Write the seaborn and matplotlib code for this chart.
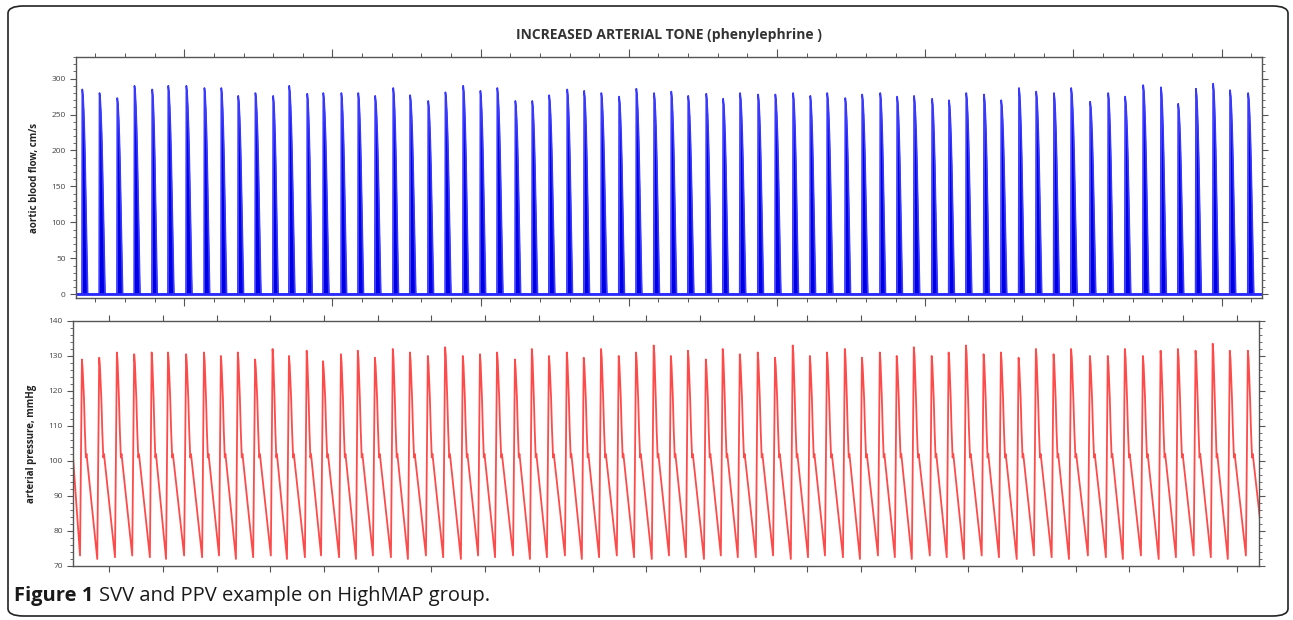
import matplotlib
matplotlib.use("Agg")
import matplotlib.pyplot as plt
import numpy as np
import pandas as pd
import seaborn as sns
from matplotlib.patches import FancyBboxPatch
from matplotlib.ticker import MultipleLocator

# beat onsets (s)
beat_onsets = [1.55, 2.13, 2.73, 3.31, 3.91, 4.45, 5.06, 5.67, 6.24, 6.81,
               7.39, 7.99, 8.53, 9.14, 9.68, 10.29, 10.86, 11.43, 12.04, 12.61,
               13.22, 13.80, 14.40, 14.98, 15.55, 16.16, 16.73, 17.30, 17.91, 18.48,
               19.06, 19.66, 20.24, 20.84, 21.42, 21.99, 22.60, 23.17, 23.74, 24.35,
               24.93, 25.53, 26.11, 26.68, 27.29, 27.86, 28.47, 29.04, 29.61, 30.22,
               30.79, 31.37, 31.97, 32.55, 33.15, 33.73, 34.33, 34.91, 35.55, 36.16,
               36.73, 37.34, 37.94, 38.52, 39.12, 39.70, 40.27, 40.88]

# peak aortic flow per beat (cm/s)
flow_peaks = [285, 280, 273, 290, 285, 290, 290, 287, 287, 276,
              280, 276, 290, 279, 280, 280, 280, 276, 287, 277,
              269, 281, 290, 283, 287, 269, 269, 277, 285, 283,
              280, 275, 286, 280, 282, 276, 279, 272, 280, 278,
              278, 280, 276, 280, 273, 278, 280, 275, 276, 272,
              270, 280, 278, 270, 287, 282, 280, 287, 268, 280,
              275, 291, 288, 265, 286, 293, 284, 280]

# systolic / diastolic arterial pressure per beat (mmHg)
pressure_peaks = [129, 129.5, 131, 130.5, 131, 131, 130.5, 131, 130, 131,
                  129, 132, 130, 131.5, 128.5, 130.5, 131.5, 129.5, 132, 131,
                  130, 132.5, 130, 130.5, 131, 129, 132, 130, 131, 129.5,
                  132, 130, 131, 133, 130, 131.5, 129, 132, 130.5, 131,
                  129.5, 133, 130, 131, 132, 129.5, 131, 130, 132.5, 130,
                  131, 133, 130.5, 131, 129.5, 132, 130.5, 132, 130, 130,
                  132, 130, 131.5, 132, 131.5, 133.5, 131.5, 131.5]
pressure_troughs = [73, 72, 72.5, 73, 72.5, 72, 73, 72.5, 73, 72,
                    72.5, 73, 72, 72.5, 73, 72.5, 72, 73, 72.5, 72,
                    73, 72.5, 72, 73, 72.5, 73, 72, 72.5, 73, 72,
                    72.5, 73, 72.5, 72, 73, 72.5, 72, 73, 72.5, 72.5,
                    73, 72, 72.5, 73, 72.5, 72, 73, 72.5, 72, 73,
                    72.5, 72, 73, 72.5, 72, 73, 72.5, 72, 73, 72.5,
                    72, 73, 72, 72.5, 73, 72.5, 72, 73]
notch_level = 101
mid_fall_level = 118

# beat shapes (phase within the beat, fraction of peak)
flow_phase = [0.0, 0.02, 0.06, 0.10, 0.14, 0.18, 0.22, 0.26, 0.30, 0.33]
flow_frac = [0.0, 1.0, 0.97, 0.9, 0.8, 0.66, 0.48, 0.3, 0.1, 0.0]

xmin, xmax = 1.35, 41.35

# build flow trace
n = len(beat_onsets)
flow_t, flow_v = [xmin], [0.0]
for i, t0 in enumerate(beat_onsets):
    rr = beat_onsets[i + 1] - t0 if i + 1 < n else t0 - beat_onsets[i - 1]
    for ph, fr in zip(flow_phase, flow_frac):
        flow_t.append(t0 + ph * rr)
        flow_v.append(fr * flow_peaks[i])
flow_t.append(xmax)
flow_v.append(0.0)
flow_df = pd.DataFrame({"t": flow_t, "flow": flow_v})

# build pressure trace
pr_t, pr_v = [xmin], [notch_level]
for i, t0 in enumerate(beat_onsets):
    rr = beat_onsets[i + 1] - t0 if i + 1 < n else t0 - beat_onsets[i - 1]
    p, d = pressure_peaks[i], pressure_troughs[i]
    pts = [(0.06, d), (0.17, p), (0.21, p - 2.5), (0.29, mid_fall_level),
           (0.34, 109), (0.40, notch_level), (0.44, notch_level + 1.0)]
    for ph, v in pts:
        pr_t.append(t0 + ph * rr)
        pr_v.append(v)
pr_t.append(beat_onsets[-1] + 1.06 * (beat_onsets[-1] - beat_onsets[-2]))
pr_v.append(73)
pr_df = pd.DataFrame({"t": pr_t, "pressure": pr_v})

sns.set_style("ticks")
plt.rcParams['font.family'] = ['Open Sans', 'DejaVu Sans']

fig = plt.figure(figsize=(12.93, 6.20), dpi=100)

spine_col = "#555555"
label_col = "#444444"

# top panel: aortic blood flow
ax1 = fig.add_axes([0.0588, 0.519, 0.917, 0.389])
ax1.fill_between(flow_df["t"], 0, flow_df["flow"], color="#0000e6", lw=0)
sns.lineplot(data=flow_df, x="t", y="flow", ax=ax1, color="#3838ff",
             lw=1.2, estimator=None, sort=False)
ax1.axhline(0, color="#2a2aff", lw=2.0)
ax1.set_xlim(xmin, xmax)
ax1.set_ylim(-5.5, 330)
ax1.yaxis.set_major_locator(MultipleLocator(50))
ax1.yaxis.set_minor_locator(MultipleLocator(10))
ax1.xaxis.set_major_locator(MultipleLocator(5))
ax1.xaxis.set_minor_locator(MultipleLocator(1))
ax1.set_ylabel("aortic blood flow, cm/s", fontsize=7, fontweight="bold",
               color="#222222", labelpad=8)
ax1.set_xlabel("")
ax1.set_title("INCREASED ARTERIAL TONE (phenylephrine )", fontsize=10,
              fontweight="bold", color="#333333", pad=13)
ax1.tick_params(axis="x", which="both", top=True, bottom=True,
                labelbottom=False, direction="out", color=spine_col)
ax1.tick_params(axis="x", which="major", length=6, width=0.8)
ax1.tick_params(axis="x", which="minor", length=3, width=0.7)
ax1.tick_params(axis="y", which="both", left=True, right=True,
                direction="out", color=spine_col, labelsize=6, labelcolor=label_col)
ax1.tick_params(axis="y", which="major", length=4, width=0.8)
ax1.tick_params(axis="y", which="minor", length=2.5, width=0.6)

# bottom panel: arterial pressure
ax2 = fig.add_axes([0.0565, 0.0871, 0.917, 0.3952])
sns.lineplot(data=pr_df, x="t", y="pressure", ax=ax2, color="#ff4a4a",
             lw=1.3, estimator=None, sort=False)
ax2.set_xlim(xmin, xmax)
ax2.set_ylim(70, 140)
ax2.yaxis.set_major_locator(MultipleLocator(10))
ax2.yaxis.set_minor_locator(MultipleLocator(2))
ax2.xaxis.set_major_locator(MultipleLocator(1.811, offset=0.765))
ax2.set_ylabel("arterial pressure, mmHg", fontsize=7, fontweight="bold",
               color="#222222", labelpad=8)
ax2.set_xlabel("")
ax2.tick_params(axis="x", which="both", top=True, bottom=True,
                labelbottom=False, direction="out", color=spine_col,
                length=4, width=0.8)
ax2.tick_params(axis="y", which="both", left=True, right=True,
                direction="out", color=spine_col, labelsize=6, labelcolor=label_col)
ax2.tick_params(axis="y", which="major", length=4, width=0.8)
ax2.tick_params(axis="y", which="minor", length=2.5, width=0.6)

for ax in (ax1, ax2):
    for sp in ax.spines.values():
        sp.set_visible(True)
        sp.set_color(spine_col)
        sp.set_linewidth(1.0)

# rounded frame around the whole figure
frame = FancyBboxPatch((8 / 1293, 4 / 620), 1280 / 1293, 610 / 620,
                       boxstyle="round,pad=0,rounding_size=0.012",
                       transform=fig.transFigure, fill=False,
                       ec="#222222", lw=1.2)
fig.patches.append(frame)

cap_y = 1 - 596 / 620
bold_txt = fig.text(14 / 1293, cap_y, "Figure 1", fontsize=14.5,
                    fontweight="bold", color="#1a1a1a", va="center", ha="left")
fig.canvas.draw()
bb = bold_txt.get_window_extent(renderer=fig.canvas.get_renderer())
fig.text((bb.x1 + 6) / 1293, cap_y, "SVV and PPV example on HighMAP group.",
         fontsize=14.5, color="#1a1a1a", va="center", ha="left")

fig.savefig("out.png", dpi=100)
